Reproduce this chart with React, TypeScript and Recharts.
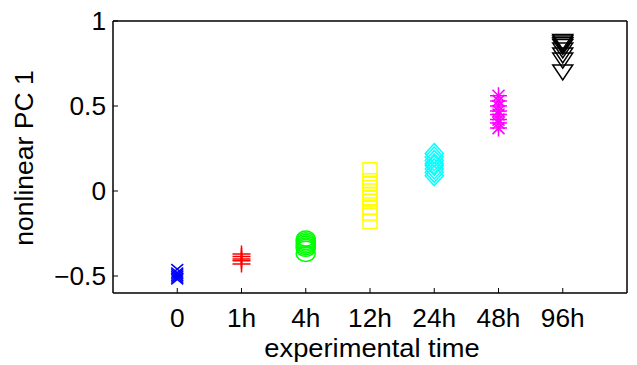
import { ScatterChart, Scatter, XAxis, YAxis } from "recharts";

// categories (x positions 1..7)
const timeLabels = ["0", "1h", "4h", "12h", "24h", "48h", "96h"];
const timeTicks = [1, 2, 3, 4, 5, 6, 7];
const yTicks = [-0.5, 0, 0.5, 1];

// nonlinear PC 1 values per time point
const t0h = [-0.46, -0.48, -0.49, -0.5, -0.51, -0.52];
const t1h = [-0.37, -0.385, -0.4, -0.41, -0.43];
const t4h = [-0.28, -0.29, -0.3, -0.31, -0.32, -0.33, -0.34, -0.37];
const t12h = [0.125, 0.06, 0.04, 0.02, 0.0, -0.02, -0.04, -0.06, -0.095, -0.13, -0.18];
const t24h = [0.22, 0.2, 0.18, 0.16, 0.15, 0.13, 0.11, 0.09];
const t48h = [0.56, 0.53, 0.5, 0.47, 0.45, 0.42, 0.4, 0.37];
const t96h = [0.88, 0.87, 0.86, 0.85, 0.83, 0.8, 0.77, 0.7];

const font = "'Liberation Sans', Arial, Helvetica, sans-serif";
const W = 1.5;

const pts = (pos: number, vals: number[]) => vals.map((v) => ({ x: pos, y: v }));

const XMark = ({ cx, cy }: any) => (
  <path
    d={`M${cx - 6},${cy - 5}L${cx + 6},${cy + 5}M${cx - 6},${cy + 5}L${cx + 6},${cy - 5}`}
    stroke="#0000ff" strokeWidth={W} fill="none" />
);
const PlusMark = ({ cx, cy }: any) => (
  <path
    d={`M${cx - 9},${cy}L${cx + 9},${cy}M${cx},${cy - 8.5}L${cx},${cy + 8.5}`}
    stroke="#ff0000" strokeWidth={W} fill="none" />
);
const CircleMark = ({ cx, cy }: any) => (
  <ellipse cx={cx} cy={cy} rx={9.5} ry={7.5} stroke="#00ff00" strokeWidth={W} fill="none" />
);
const SquareMark = ({ cx, cy }: any) => (
  <rect x={cx - 7} y={cy - 7} width={14} height={14} stroke="#ffff00" strokeWidth={W} fill="none" />
);
const DiamondMark = ({ cx, cy }: any) => (
  <path
    d={`M${cx},${cy - 10}L${cx + 9},${cy}L${cx},${cy + 10}L${cx - 9},${cy}Z`}
    stroke="#00ffff" strokeWidth={W} fill="none" />
);
const StarMark = ({ cx, cy }: any) => (
  <path
    d={`M${cx - 8.5},${cy}L${cx + 8.5},${cy}M${cx},${cy - 8.5}L${cx},${cy + 8.5}M${cx - 6},${cy - 6}L${cx + 6},${cy + 6}M${cx - 6},${cy + 6}L${cx + 6},${cy - 6}`}
    stroke="#ff00ff" strokeWidth={W} fill="none" />
);
const TriMark = ({ cx, cy }: any) => (
  <path
    d={`M${cx - 10},${cy - 7}L${cx + 10},${cy - 7}L${cx},${cy + 8}Z`}
    stroke="#000000" strokeWidth={W} fill="none" />
);

const BottomTick = ({ x, y, payload }: any) => (
  <g>
    <line x1={x} y1={y} x2={x} y2={y - 5} stroke="#000" strokeWidth={1} />
    <g transform={`translate(${x},${y + 34})`}>
      <text transform="scale(1.05,1)" textAnchor="middle" fontSize={25} fontFamily={font} fill="#000">
        {timeLabels[payload.value - 1]}
      </text>
    </g>
  </g>
);
const TopTick = ({ x, y }: any) => (
  <line x1={x} y1={y} x2={x} y2={y + 5} stroke="#000" strokeWidth={1} />
);
const LeftTick = ({ x, y, payload }: any) => (
  <g>
    <line x1={x} y1={y} x2={x + 5} y2={y} stroke="#000" strokeWidth={1} />
    <g transform={`translate(${x - 7},${y + 8.5})`}>
      <text transform="scale(1.05,1)" textAnchor="end" fontSize={25} fontFamily={font} fill="#000">
        {payload.value < 0 ? `\u2212${Math.abs(payload.value)}` : `${payload.value}`}
      </text>
    </g>
  </g>
);
const RightTick = ({ x, y }: any) => (
  <line x1={x} y1={y} x2={x - 5} y2={y} stroke="#000" strokeWidth={1} />
);

const XTitle = () => (
  <g transform="translate(372,357)">
    <text transform="scale(1.05,1)" textAnchor="middle" fontSize={26} fontFamily={font} fill="#000">
      experimental time
    </text>
  </g>
);
const YTitle = () => (
  <text transform="translate(33,158) rotate(-90)" textAnchor="middle" fontSize={26.5} fontFamily={font} fill="#000">
    nonlinear PC 1
  </text>
);

const App = () => {
  return (
    <div style={{ position: "absolute", left: 0, top: 0, background: "#fff" }}>
      <ScatterChart width={637} height={365} margin={{ top: 0, right: 0, bottom: 0, left: 0 }}>
        <XAxis
          type="number" dataKey="x" domain={[0, 8]} ticks={timeTicks} height={72}
          tickSize={0} tickMargin={0} tickLine={false} tick={<BottomTick />}
          axisLine={{ stroke: "#000", strokeWidth: 1.5 }} label={<XTitle />} />
        <XAxis
          xAxisId="top" orientation="top" type="number" domain={[0, 8]} ticks={timeTicks} height={21}
          tickSize={0} tickMargin={0} tickLine={false} tick={<TopTick />}
          axisLine={{ stroke: "#000", strokeWidth: 1.5 }} />
        <YAxis
          type="number" dataKey="y" domain={[-0.6, 1]} ticks={yTicks} width={113}
          tickSize={0} tickMargin={0} tickLine={false} tick={<LeftTick />}
          axisLine={{ stroke: "#000", strokeWidth: 1.5 }} label={<YTitle />} />
        <YAxis
          yAxisId="right" orientation="right" type="number" domain={[-0.6, 1]} ticks={yTicks} width={10}
          tickSize={0} tickMargin={0} tickLine={false} tick={<RightTick />}
          axisLine={{ stroke: "#000", strokeWidth: 1.5 }} />
        <Scatter data={pts(1, t0h)} shape={<XMark />} isAnimationActive={false} />
        <Scatter data={pts(2, t1h)} shape={<PlusMark />} isAnimationActive={false} />
        <Scatter data={pts(3, t4h)} shape={<CircleMark />} isAnimationActive={false} />
        <Scatter data={pts(4, t12h)} shape={<SquareMark />} isAnimationActive={false} />
        <Scatter data={pts(5, t24h)} shape={<DiamondMark />} isAnimationActive={false} />
        <Scatter data={pts(6, t48h)} shape={<StarMark />} isAnimationActive={false} />
        <Scatter data={pts(7, t96h)} shape={<TriMark />} isAnimationActive={false} />
      </ScatterChart>
    </div>
  );
};

export default App;
